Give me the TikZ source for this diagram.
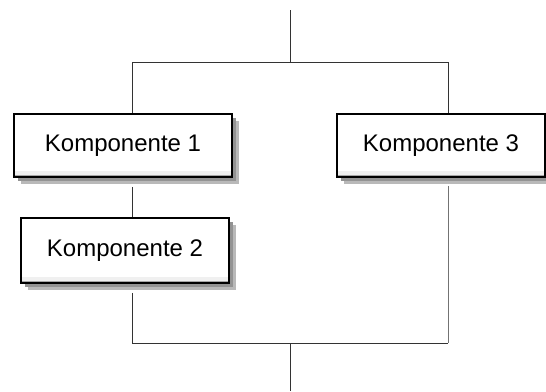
\documentclass[tikz,border=0pt]{standalone}
\usepackage{fontspec}
\setmainfont{Liberation Sans}
\usepackage{tikz}
\usetikzlibrary{shadows}

\tikzset{
  komp/.style={draw=black, line width=1.6pt, fill=white, align=center,
    minimum height=63pt, inner sep=0pt,
    font=\fontsize{24}{28}\selectfont,
    drop shadow={shadow xshift=7pt, shadow yshift=-7pt, fill=gray!55, opacity=1},
    drop shadow={shadow xshift=4pt, shadow yshift=-4pt, fill=gray!85, opacity=1},
    path picture={\fill[gray!12] (path picture bounding box.south west) rectangle ([yshift=6pt]path picture bounding box.south east);
      \draw[gray!70, line width=1pt] ([yshift=1.5pt]path picture bounding box.south west) -- ([yshift=1.5pt]path picture bounding box.south east);}},
  leitung/.style={draw=black!80, line width=0.8pt}
}

\begin{document}
\begin{tikzpicture}[x=1pt, y=-1pt]
		\useasboundingbox (0,0) rectangle (546,391);
		% Bloki
		\node[komp, minimum width=218pt] (K1) at (123,145.5) {Komponente 1};
		\node[komp, minimum width=208pt, minimum height=65pt] (K2) at (125,250.5) {Komponente 2};
		\node[komp, minimum width=208pt] (K3) at (441,145.5) {Komponente 3};

		% Verzweigung
		\coordinate (ein) at (290,10);
		\coordinate (oben) at (290,62);
		\coordinate (ol) at (132,62);
		\coordinate (or) at (448,62);
		\coordinate (ul) at (132,343);
		\coordinate (ur) at (448,343);
		\coordinate (unten) at (290,343);
		\coordinate (aus) at (290,391);

		% Linien
		\draw[leitung] (ein) -- (oben);
		\draw[leitung] (ol) -- (or);
		\draw[leitung] (ol) -- (ol |- K1.north);
		\draw[leitung] (or) -- (or |- K3.north);
		\draw[leitung, shorten <=9pt] (ol |- K1.south) -- (ol |- K2.north);
		\draw[leitung, shorten <=9pt] (ul |- K2.south) -- (ul);
		\draw[leitung, draw=black!55, shorten <=8pt] (or |- K3.south) -- (ur);
		\draw[leitung] (ul) -- (ur);
		\draw[leitung] (unten) -- (aus);
\end{tikzpicture}
\end{document}
